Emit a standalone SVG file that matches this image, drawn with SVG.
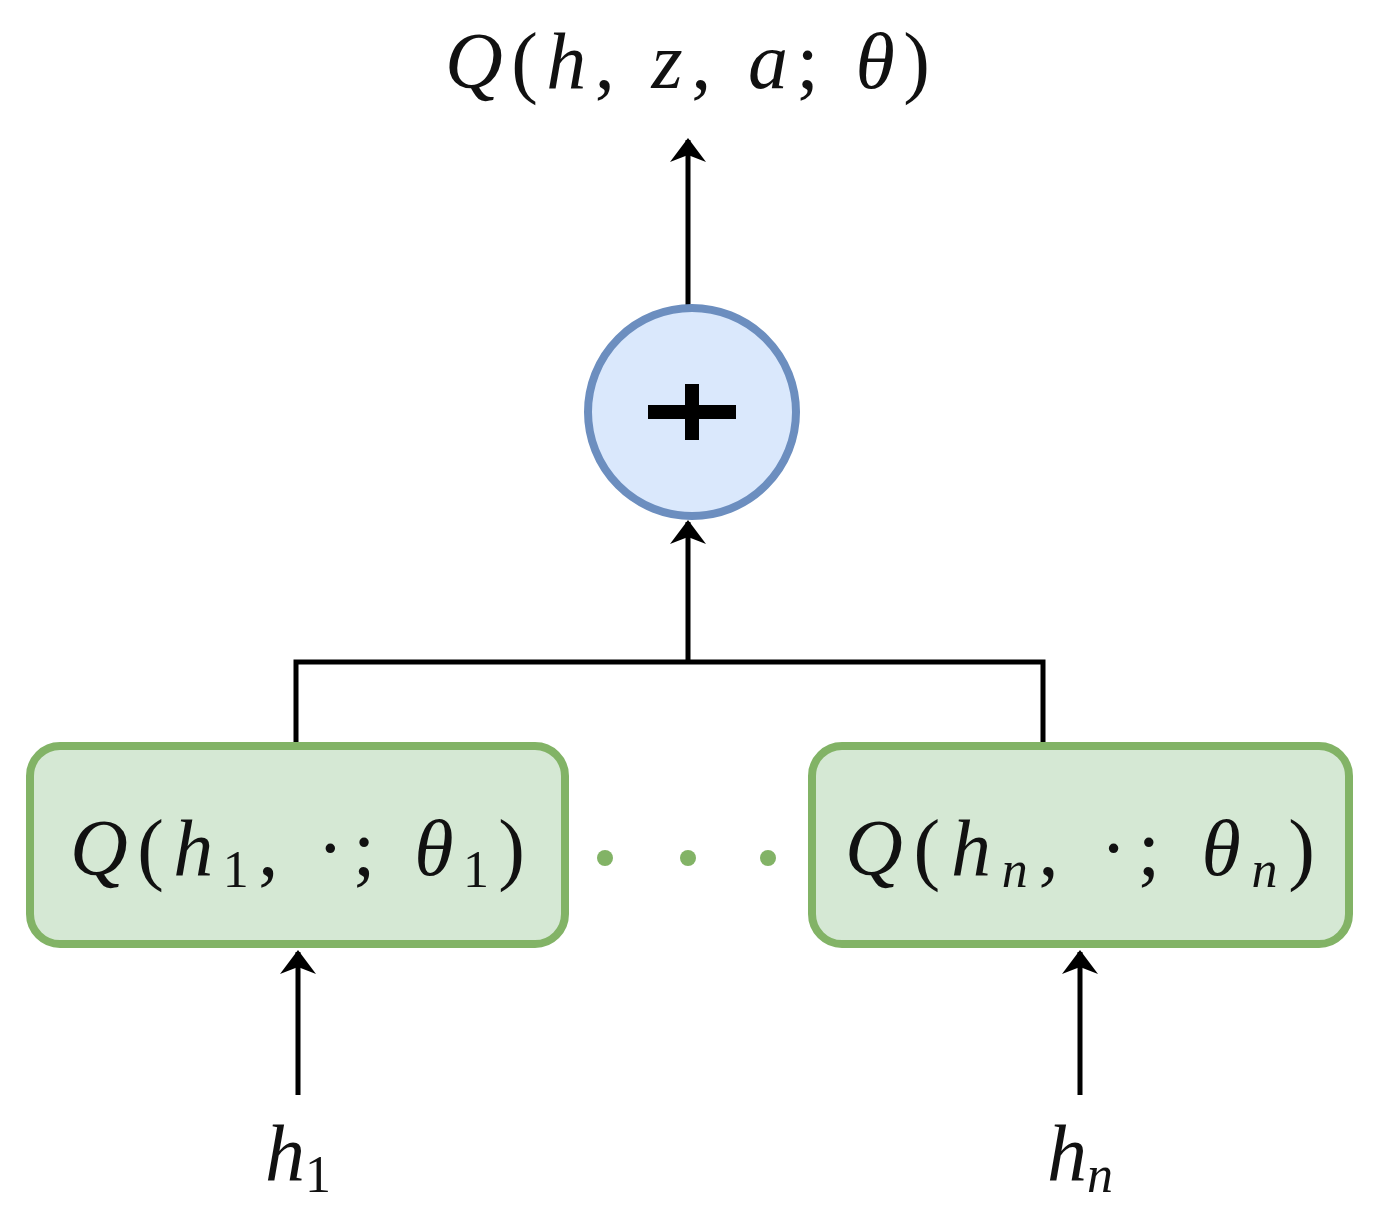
<svg xmlns="http://www.w3.org/2000/svg" width="1378" height="1213" viewBox="0 0 1378 1213">
<style>
.t{font-family:"Liberation Serif",serif;font-style:italic;fill:#111}
.n{font-style:normal}
.ln{stroke:#000;stroke-width:5;fill:none}
</style>
<defs>
<marker id="ah" markerWidth="10" markerHeight="10" refX="8" refY="5" orient="auto" markerUnits="userSpaceOnUse" viewBox="0 0 10 10" overflow="visible">
<path d="M-14,-13 L10,5 L-14,23 L-7,5 Z" fill="#000"/>
</marker>
</defs>
<rect width="1378" height="1213" fill="#fff"/>
<g id="connectors">
<line class="ln" x1="688" y1="308" x2="688" y2="140" marker-end="url(#ah)"/>
<line class="ln" x1="688" y1="662" x2="688" y2="522" marker-end="url(#ah)"/>
<polyline class="ln" points="296,745 296,662 1043,662 1043,745"/>
<line class="ln" x1="298" y1="1095" x2="298" y2="952" marker-end="url(#ah)"/>
<line class="ln" x1="1080" y1="1095" x2="1080" y2="952" marker-end="url(#ah)"/>
</g>
<g id="output"><text class="t" x="445" y="88" font-size="80" textLength="485" lengthAdjust="spacing">Q<tspan class="n">(</tspan>h<tspan class="n">, </tspan>z<tspan class="n">, </tspan>a<tspan class="n">; </tspan>θ<tspan class="n">)</tspan></text></g>
<g id="sum">
<circle cx="692" cy="412" r="104" fill="#dae8fc" stroke="#6c8ebf" stroke-width="8"/>
<path d="M648,412 H736 M692,384 V440" stroke="#000" stroke-width="14"/>
</g>
<g id="q1">
<rect x="30" y="746" width="535" height="198" rx="30" fill="#d5e8d4" stroke="#82b366" stroke-width="8"/>
<text class="t" x="70" y="875" font-size="80" textLength="455" lengthAdjust="spacing">Q<tspan class="n">(</tspan>h<tspan class="n" font-size="52" dy="12">1</tspan><tspan class="n" dy="-12">, ·; </tspan>θ<tspan class="n" font-size="52" dy="12">1</tspan><tspan class="n" dy="-12">)</tspan></text>
</g>
<g id="qn">
<rect x="812" y="746" width="537" height="198" rx="30" fill="#d5e8d4" stroke="#82b366" stroke-width="8"/>
<text class="t" x="845" y="875" font-size="80" textLength="470" lengthAdjust="spacing">Q<tspan class="n">(</tspan>h<tspan font-size="52" dy="12">n</tspan><tspan class="n" dy="-12">, ·; </tspan>θ<tspan font-size="52" dy="12">n</tspan><tspan class="n" dy="-12">)</tspan></text>
</g>
<g id="dots" fill="#82b366">
<circle cx="605" cy="858" r="8"/><circle cx="688" cy="858" r="8"/><circle cx="768" cy="858" r="8"/>
</g>
<g id="h1"><text class="t" x="298" y="1180" font-size="80" text-anchor="middle">h<tspan class="n" font-size="52" dy="12">1</tspan></text></g>
<g id="hn"><text class="t" x="1080" y="1180" font-size="80" text-anchor="middle">h<tspan font-size="52" dy="12">n</tspan></text></g>
</svg>
